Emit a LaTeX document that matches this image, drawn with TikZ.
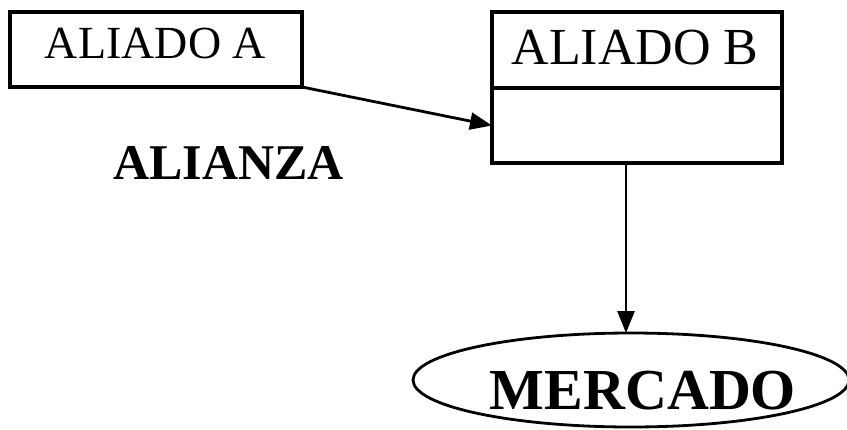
\documentclass[tikz,border=0pt]{standalone}
\usepackage{fontspec}
\setmainfont{Liberation Serif}
\usetikzlibrary{arrows.meta,shapes.geometric,calc}
\begin{document}
\begin{tikzpicture}[x=1pt,y=-1pt,
  boxnode/.style={draw, rectangle, inner sep=0pt, outer sep=0pt, line width=3.4pt},
  arr/.style={-{Triangle[length=22pt,width=17pt]}, line width=2.8pt},
  lbl/.style={inner sep=0pt, font=\fontsize{46}{50}\selectfont},
  boldlbl/.style={inner sep=0pt, font=\bfseries\fontsize{50}{54}\selectfont}]
\useasboundingbox (0,0) rectangle (847,429);
\node[boxnode, minimum width=292pt, minimum height=75pt] (A) at (156,49.5) {};
\node[lbl] (tA) at (155.5,43) {ALIADO A};
\node[boxnode, minimum width=290pt, minimum height=76pt] (Bt) at (637,50) {};
\node[boxnode, minimum width=290pt, minimum height=75pt, anchor=north] (Bb) at (Bt.south) {};
\node[lbl, font=\fontsize{52}{56}\selectfont] (tB) at (635,47.5) {ALIADO B};
\node[boldlbl] (al) at (228.5,162.5) {ALIANZA};
\node[draw, ellipse, line width=2.8pt, outer sep=0pt, minimum width=436pt, minimum height=94pt, inner sep=0pt] (M) at (631,380) {};
\node[boldlbl, font=\bfseries\fontsize{58}{62}\selectfont] (tM) at (643,391) {MERCADO};
\draw[arr] (A.south east) -- (Bb.west);
\draw[arr] ($(Bb.south)+(-11,0)$) -- ($(M.north)+(-5,0)$);
\end{tikzpicture}
\end{document}
